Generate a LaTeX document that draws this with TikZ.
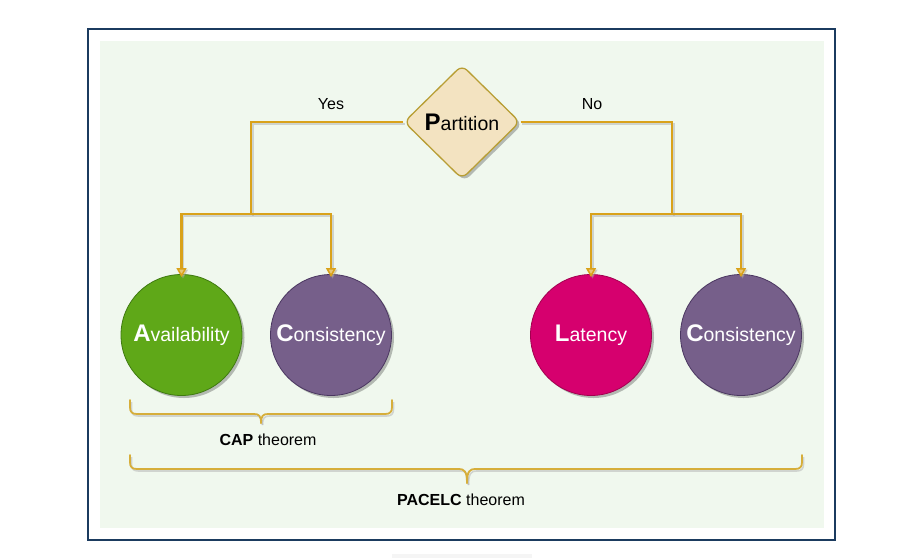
\documentclass[tikz,border=0pt]{standalone}
\usepackage{fontspec}
\setmainfont{Liberation Sans}
\usetikzlibrary{arrows.meta,shapes.geometric,shadows}
\definecolor{framecol}{HTML}{1B3B5F}
\definecolor{bgcol}{HTML}{F0F8EE}
\definecolor{diafill}{HTML}{F3E3C1}
\definecolor{diadraw}{HTML}{B89E34}
\definecolor{conncol}{HTML}{D9A21A}
\definecolor{bracecol}{HTML}{D6AE3A}
\definecolor{greenfill}{HTML}{5FA818}
\definecolor{greendraw}{HTML}{3F7A10}
\definecolor{purplefill}{HTML}{765F8A}
\definecolor{purpledraw}{HTML}{4A3660}
\definecolor{magfill}{HTML}{D6006E}
\definecolor{magdraw}{HTML}{A2004F}
\newcommand{\bigfirst}[2]{{\fontsize{24}{24}\selectfont\bfseries #1}{\fontsize{19.5}{20}\selectfont #2}}
\begin{document}
\begin{tikzpicture}[x=1pt,y=-1pt,
  nshadow/.style={drop shadow={shadow xshift=2.5pt,shadow yshift=-2.5pt,opacity=0.25,fill=black}},
  decision/.style={diamond,draw=diadraw,fill=diafill,line width=1.3pt,rounded corners=7pt,
    minimum width=116pt,minimum height=114pt,inner sep=0pt,nshadow},
  ball/.style={circle,minimum size=121pt,inner sep=0pt,line width=0.8pt,text=white,nshadow},
  lshadow/.style={preaction={draw=black!35,opacity=0.45,line width=2pt,transform canvas={shift={(1.5pt,-1.5pt)}}}},
  conn/.style={draw=conncol,line width=2.5pt,lshadow},
  arr/.style={conn,-{Triangle[width=10pt,length=9pt,fill=conncol!60,line width=1.5pt]}},
  lbl/.style={inner sep=0pt,font=\fontsize{16}{16}\selectfont},
  bracepath/.style={draw=bracecol,line width=1.8pt,line cap=round,
    preaction={draw=black!30,opacity=0.5,line width=1.6pt,transform canvas={shift={(1.5pt,-2pt)}}}}
]
\useasboundingbox (0,0) rectangle (898,558);
\fill[white] (0,0) rectangle (898,558);
% frame and background
\draw[framecol,line width=2pt] (88,29) rectangle (835,540);
\fill[bgcol] (100,41) rectangle (824,528);
\fill[black!4] (392,554) rectangle (532,558);

% junctions
\coordinate (yj) at (251,214);
\coordinate (nj) at (672,214);

% nodes
\node[decision] (P) at (462,122) {\bigfirst{P}{artition}};
\node[ball,fill=greenfill,draw=greendraw] (A) at (181.5,335) {\bigfirst{A}{vailability}};
\node[ball,fill=purplefill,draw=purpledraw] (C1) at (331,335) {\bigfirst{C}{onsistency}};
\node[ball,fill=magfill,draw=magdraw] (L) at (591,335) {\bigfirst{L}{atency}};
\node[ball,fill=purplefill,draw=purpledraw] (C2) at (741,335) {\bigfirst{C}{onsistency}};

% connectors
\draw[conn] (P.west) -| (yj);
\draw[arr] (yj) -| ([yshift=-3pt]A.north);
\draw[arr] (yj) -| ([yshift=-3pt]C1.north);
\draw[conn] (P.east) -| (nj);
\draw[arr] (nj) -| ([yshift=-3pt]L.north);
\draw[arr] (nj) -| ([yshift=-3pt]C2.north);

\node[lbl] (yes) at (331,104) {Yes};
\node[lbl] (no) at (592,104) {No};

% CAP brace
\coordinate (capL) at (130,400);
\coordinate (capR) at (392,400);
\coordinate (capT) at (261,423);
\draw[bracepath] (capL) -- (130,407) .. controls (130,412) and (132,414) .. (137,414)
  -- (254,414) .. controls (259,414) and (261,416) .. (capT);
\draw[bracepath] (capR) -- (392,407) .. controls (392,412) and (390,414) .. (385,414)
  -- (268,414) .. controls (263,414) and (261,416) .. (capT);
\node[lbl] (cap) at (268,440) {\textbf{CAP} theorem};

% PACELC brace
\coordinate (pL) at (130,455);
\coordinate (pR) at (802,455);
\coordinate (pT) at (467,483);
\draw[bracepath] (pL) -- (130,462) .. controls (130,467) and (132,469) .. (137,469)
  -- (459,469) .. controls (464,469) and (467,471) .. (pT);
\draw[bracepath] (pR) -- (802,462) .. controls (802,467) and (800,469) .. (795,469)
  -- (475,469) .. controls (470,469) and (467,471) .. (pT);
\node[lbl] (pacelc) at (461,500) {\textbf{PACELC} theorem};
\end{tikzpicture}
\end{document}
